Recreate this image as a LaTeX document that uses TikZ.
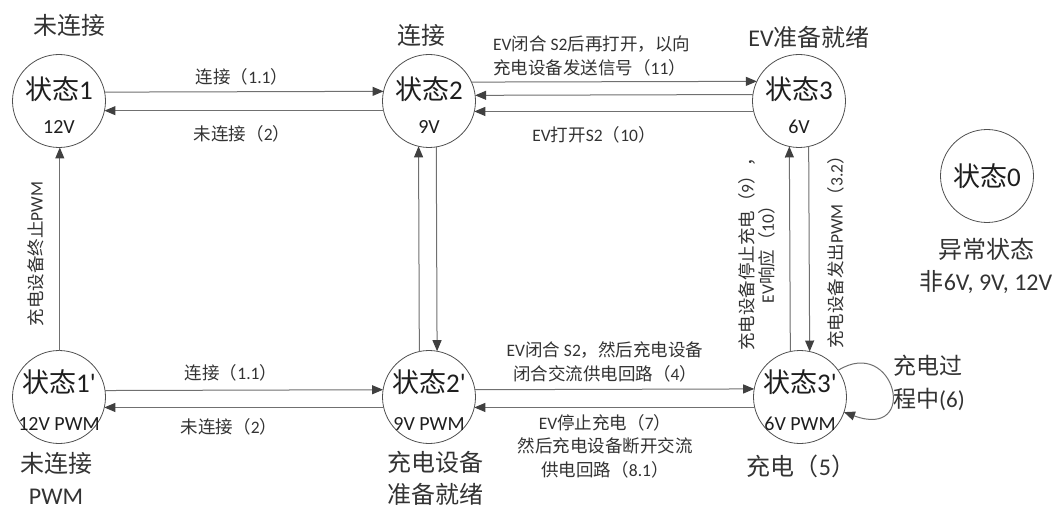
\documentclass[tikz,border=0pt]{standalone}
\usepackage{fontspec}
\setmainfont{Noto Sans CJK SC}
\newfontfamily\lat{Carlito}
\usetikzlibrary{arrows.meta}
\definecolor{linegray}{HTML}{707070}
\definecolor{tipgray}{HTML}{404040}
\definecolor{circgray}{HTML}{505050}
\definecolor{txt}{HTML}{1E1E1E}
\definecolor{ltxt}{HTML}{333333}
\tikzset{
  state/.style={circle, draw=circgray, line width=0.8pt, minimum size=93pt, inner sep=0pt, outer sep=0pt},
  stitle/.style={font=\fontsize{27}{30}\selectfont, text=txt, inner sep=0pt},
  ssub/.style={font=\lat\fontsize{20}{22}\selectfont, text=txt, inner sep=0pt},
  biglab/.style={font=\fontsize{24}{32}\selectfont, text=ltxt, align=center, inner sep=0pt},
  elab/.style={font=\fontsize{17.5}{23.5}\selectfont, text=ltxt, align=center, inner sep=0pt},
  arr/.style={draw=linegray, line width=1pt, -{Triangle[length=11pt,width=9pt,color=tipgray]}},
}
\begin{document}
\begin{tikzpicture}[x=1pt,y=-1pt]
\fill[white] (0,0) rectangle (1058,508);
\useasboundingbox (0,0) rectangle (1058,508);

% states
\node[state] (s1) at (59,101) {};
\node[state] (s2) at (429,101) {};
\node[state] (s3) at (799,101) {};
\node[state] (s1p) at (59,397) {};
\node[state] (s2p) at (429,397) {};
\node[state] (s3p) at (800,397) {};
\node[state] (s0) at (987,176) {};

\node[stitle] (t1) at ([yshift=12pt]s1.center) {状态{\lat 1}};
\node[ssub]   (u1) at ([yshift=-26pt]s1.center) {12V};
\node[stitle] (t2) at ([yshift=12pt]s2.center) {状态{\lat 2}};
\node[ssub]   (u2) at ([yshift=-26pt]s2.center) {9V};
\node[stitle] (t3) at ([yshift=12pt]s3.center) {状态{\lat 3}};
\node[ssub]   (u3) at ([yshift=-26pt]s3.center) {6V};
\node[stitle] (t1p) at ([yshift=15pt]s1p.center) {状态{\lat 1'}};
\node[ssub]   (u1p) at ([yshift=-27pt]s1p.center) {12V PWM};
\node[stitle] (t2p) at ([yshift=15pt]s2p.center) {状态{\lat 2'}};
\node[ssub]   (u2p) at ([yshift=-27pt]s2p.center) {9V PWM};
\node[stitle] (t3p) at ([yshift=15pt]s3p.center) {状态{\lat 3'}};
\node[ssub]   (u3p) at ([yshift=-27pt]s3p.center) {6V PWM};
\node[stitle] (t0) at (s0.center) {状态{\lat 0}};

% state captions
\node[biglab] (c1) at (70,25) {未连接};
\node[biglab] (c2) at (421,35) {连接};
\node[biglab] (c3) at (809,37) {{\lat EV}准备就绪};
\node[biglab] (c1p) at (56,478) {未连接\\{\lat PWM}};
\node[biglab] (c2p) at (435,478) {充电设备\\准备就绪};
\node[biglab] (c3p) at (801,466) {充电（{\lat 5}）};
\node[biglab] (c0) at (986,266) {异常状态\\非{\lat 6V, 9V, 12V}};

% top row
\draw[arr] (s1.11.3) -- (s2.168.7);
\draw[arr] (s2.192.6) -- (s1.-12.6);
\draw[arr] (s2.24.4) -- (s3.155.6);
\draw[arr] (s3.172.5) -- (s2.7.5);
\draw[arr] (s3.193.8) -- (s2.-13.8);
% bottom row
\draw[arr] (s1p.8.7) -- (s2p.171.3);
\draw[arr] (s2p.193.7) -- (s1p.-13.7);
\draw[arr] (s2p.9.9) -- (s3p.170.1);
\draw[arr] (s3p.193.7) -- (s2p.-13.7);
% verticals
\draw[arr] (s1p.89) -- (s1.271);
\draw[arr] (s2p.102.4) -- (s2.257.6);
\draw[arr] (s2.279.9) -- (s2p.80.1);
\draw[arr] (s3p.102.4) -- (s3.258.8);
\draw[arr] (s3.282.4) -- (s3p.78.8);
% self loop
\draw[arr] (s3p.35) .. controls (895,335) and (920,440) .. (s3p.-19);

% edge labels
\node[elab] (l1) at (242,77) {连接（{\lat 1.1}）};
\node[elab] (l2) at (242,134) {未连接（{\lat 2}）};
\node[elab, align=left, anchor=west] (l3) at (493,56) {{\lat EV}闭合 {\lat S2}后再打开，以向\\充电设备发送信号（{\lat 11}）};
\node[elab] (l4) at (594,135) {{\lat EV}打开{\lat S2}（{\lat 10}）};
\node[elab] (l5) at (231,373) {连接（{\lat 1.1}）};
\node[elab] (l6) at (229,427) {未连接（{\lat 2}）};
\node[elab] (l7) at (605,362) {{\lat EV}闭合 {\lat S2}，然后充电设备\\闭合交流供电回路（{\lat 4}）};
\node[elab] (l8) at (605,446) {{\lat EV}停止充电（{\lat 7}）\\然后充电设备断开交流\\供电回路（{\lat 8.1}）};
\node[elab, rotate=90] (l9) at (36,254) {充电设备终止{\lat PWM}};
\node[elab, rotate=90, font=\fontsize{17.5}{20.5}\selectfont] (l10) at (757,250) {充电设备停止充电（{\lat 9}），\\{\lat EV}响应（{\lat 10}）};
\node[elab, rotate=90] (l11) at (836,248) {充电设备发出{\lat PWM}（{\lat 3.2}）};
\node[biglab, align=left, anchor=west, font=\fontsize{23}{33}\selectfont] (l12) at (893,383) {充电过\\程中{\lat (6)}};
\end{tikzpicture}
\end{document}
